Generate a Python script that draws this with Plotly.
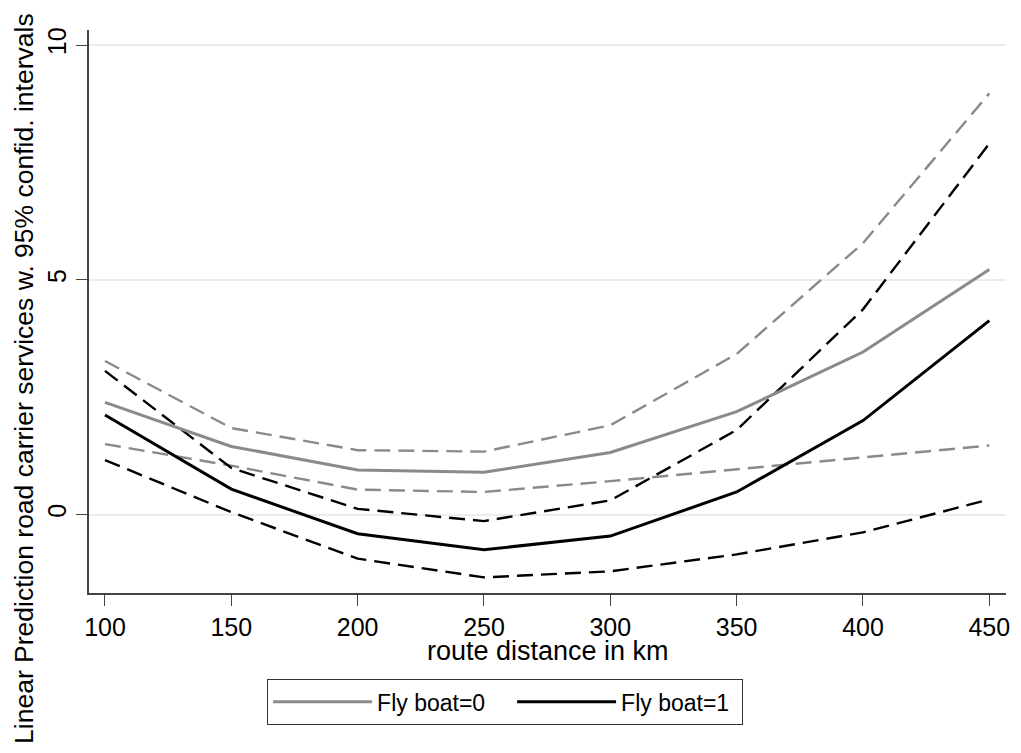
import plotly.graph_objects as go

distance = [100, 150, 200, 250, 300, 350, 400, 450]

fb0_pred = [2.39, 1.45, 0.95, 0.90, 1.32, 2.19, 3.46, 5.22]
fb0_hi = [3.27, 1.84, 1.37, 1.34, 1.90, 3.42, 5.78, 8.97]
fb0_lo = [1.50, 1.04, 0.53, 0.48, 0.71, 0.96, 1.21, 1.47]

fb1_pred = [2.12, 0.54, -0.41, -0.75, -0.46, 0.48, 2.00, 4.13]
fb1_hi = [3.06, 0.99, 0.12, -0.14, 0.30, 1.80, 4.37, 7.90]
fb1_lo = [1.16, 0.05, -0.94, -1.34, -1.21, -0.85, -0.38, 0.32]

x_ticks = [100, 150, 200, 250, 300, 350, 400, 450]
y_ticks = [0, 5, 10]

x_title = "route distance in km"
y_title = "Linear Prediction road carrier services w. 95% confid. intervals"

GRAY = "#8a8a8a"
BLACK = "#000000"
FONT = "Liberation Sans, Arial, sans-serif"

fig = go.Figure()

def add(y, color, dash, width, name=None, show=False, lw=None):
    fig.add_trace(go.Scatter(
        x=distance, y=y, mode="lines",
        line=dict(color=color, width=width, dash=dash),
        name=name if name else "", showlegend=show, hoverinfo="skip",
        legendwidth=lw,
    ))

add(fb0_hi, GRAY, "16px,8px", 2.4)
add(fb0_lo, GRAY, "16px,8px", 2.4)
add(fb1_hi, BLACK, "16px,8px", 2.4)
add(fb1_lo, BLACK, "16px,8px", 2.4)
add(fb0_pred, GRAY, "solid", 3, "Fly boat=0", True, lw=130)
add(fb1_pred, BLACK, "solid", 3, "Fly boat=1", True, lw=115)

# page body has an 8px default margin, so the figure is sized to fit the window
fig.update_layout(
    width=1013, height=745,
    margin=dict(l=81, r=15, t=22, b=160, autoexpand=False),
    paper_bgcolor="white", plot_bgcolor="white",
    font=dict(family=FONT, color="#000"),
    showlegend=True,
    legend=dict(
        orientation="h", x=0.194, y=-0.153, xanchor="left", yanchor="top",
        bordercolor="#333", borderwidth=1.2, bgcolor="white",
        font=dict(size=23, family=FONT, color="#000"),
        itemwidth=99,
        traceorder="normal",
    ),
    xaxis=dict(
        range=[93.67, 456.6], automargin=False,
        tickvals=x_ticks, ticktext=[str(v) for v in x_ticks],
        ticks="outside", ticklen=11, tickwidth=1.3, tickcolor="#444",
        showline=True, linecolor="#444", linewidth=1.5,
        showgrid=False, zeroline=False,
        tickfont=dict(size=25),
    ),
    yaxis=dict(
        range=[-1.672, 10.32], automargin=False,
        tickvals=y_ticks, ticktext=[str(v) for v in y_ticks],
        tickangle=-90,
        ticks="outside", ticklen=11, tickwidth=1.3, tickcolor="#444",
        showline=True, linecolor="#444", linewidth=1.5,
        showgrid=True, gridcolor="#e6eef0", gridwidth=1.5,
        zeroline=False,
        tickfont=dict(size=25),
    ),
    annotations=[
        dict(text=x_title, xref="paper", yref="paper", x=0.5, y=-0.103,
             xanchor="center", yanchor="middle", showarrow=False,
             font=dict(size=27, family=FONT, color="#000")),
        dict(text=y_title, xref="paper", yref="paper", x=-0.0709, y=0.382,
             xanchor="center", yanchor="middle", showarrow=False, textangle=-90,
             font=dict(size=26.5, family=FONT, color="#000")),
    ],
)

fig.write_html("out.html")
